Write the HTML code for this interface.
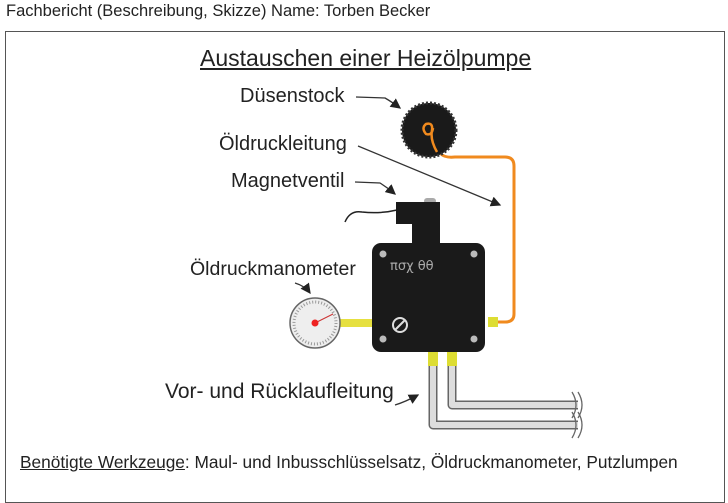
<!DOCTYPE html>
<html><head><meta charset="utf-8"><style>
body{margin:0;background:#fff;width:728px;height:488px;overflow:hidden;position:relative;font-family:"Liberation Sans",sans-serif;color:#222}
.t{position:absolute;white-space:nowrap}
</style></head><body>
<div class="t" style="left:6px;top:2px;font-size:16.5px">Fachbericht (Beschreibung, Skizze) Name: Torben Becker</div>
<div style="position:absolute;left:5px;top:31px;width:718px;height:470px;border:1.5px solid #555"></div>
<div class="t" style="left:200px;top:45px;font-size:23px;text-decoration:underline">Austauschen einer Heizölpumpe</div>
<div class="t" style="left:240px;top:85px;font-size:20px">Düsenstock</div>
<div class="t" style="left:219px;top:133px;font-size:20px">Öldruckleitung</div>
<div class="t" style="left:231px;top:170px;font-size:20px">Magnetventil</div>
<div class="t" style="left:190px;top:258px;font-size:19.5px">Öldruckmanometer</div>
<div class="t" style="left:165px;top:380px;font-size:21px">Vor- und Rücklaufleitung</div>
<div class="t" style="left:20px;top:452px;font-size:17.3px"><u>Benötigte Werkzeuge</u>: Maul- und Inbusschlüsselsatz, Öldruckmanometer, Putzlumpen</div>
<svg width="728" height="488" style="position:absolute;left:0;top:0">
<defs><marker id="a" markerWidth="8" markerHeight="8" refX="7" refY="4" orient="auto"><path d="M0,0L8,4L0,8z" fill="#222"/></marker></defs>
<g stroke="#333" stroke-width="1.3" fill="none" marker-end="url(#a)">
<path d="M356,97 L385,98 Q392,102 400,108"/>
<path d="M358,146 L500,205"/>
<path d="M355,182 L380,183 Q388,188 395,194"/>
<path d="M295,283 Q305,286 310,293"/>
<path d="M395,405 Q405,402 418,395"/>
</g>
<g fill="none" stroke-linejoin="round">
<path d="M433,365 V425 H578" stroke="#666" stroke-width="9"/>
<path d="M433,365 V425 H578" stroke="#ddd" stroke-width="6"/>
<path d="M452,365 V405 H578" stroke="#666" stroke-width="9"/>
<path d="M452,365 V405 H578" stroke="#ddd" stroke-width="6"/>
</g>
<path d="M572,392 Q580,405 572,418 M578,392 Q586,405 578,418 M572,412 Q580,425 572,438 M578,412 Q586,425 578,438" stroke="#666" stroke-width="1.3" fill="none"/>
<rect x="428" y="352" width="10" height="14" fill="#dd3"/><rect x="447" y="352" width="10" height="14" fill="#dd3"/>
<path d="M441,154 Q445,158 455,157 H505 Q514,157 514,166 V314 Q514,322 505,322 H495" stroke="#f08a1e" stroke-width="3" fill="none"/>
<circle cx="429" cy="130" r="27" fill="#1a1a1a" stroke="#333" stroke-width="3" stroke-dasharray="2 2"/>
<path d="M437,152 Q430,140 432,130 Q433,122 426,124 Q421,128 426,134 Q432,136 433,128" stroke="#f08a1e" stroke-width="2.5" fill="none"/>
<path d="M345,222 Q350,210 362,212 Q380,214 397,210" stroke="#222" stroke-width="1.5" fill="none"/>
<rect x="424" y="198" width="12" height="6" rx="3" fill="#aaa"/>
<rect x="396" y="202" width="44" height="22" fill="#1a1a1a"/>
<rect x="412" y="222" width="28" height="24" fill="#1a1a1a"/>
<rect x="372" y="243" width="113" height="109" rx="9" fill="#1a1a1a"/>
<circle cx="383" cy="254" r="3.5" fill="#bbb"/><circle cx="474" cy="254" r="3.5" fill="#bbb"/>
<circle cx="383" cy="339" r="3.5" fill="#bbb"/><circle cx="474" cy="339" r="3.5" fill="#bbb"/>
<text x="390" y="270" font-family="DejaVu Sans,sans-serif" font-size="13" fill="#aaa">πσχ  θθ</text>
<circle cx="400" cy="325" r="7" fill="none" stroke="#ddd" stroke-width="2"/>
<path d="M395,330 L405,320" stroke="#ddd" stroke-width="2"/>
<rect x="338" y="319" width="34" height="8" fill="#e6e040"/>
<rect x="488" y="317" width="10" height="10" fill="#dd3"/>
<circle cx="315" cy="323" r="25" fill="#eee" stroke="#666" stroke-width="1.5"/>
<circle cx="315" cy="323" r="21" fill="none" stroke="#999" stroke-width="3" stroke-dasharray="1 2"/>
<path d="M315,323 L333,314" stroke="#c33" stroke-width="1"/>
<circle cx="315" cy="323" r="3.5" fill="#e22"/>
</svg>
</body></html>
